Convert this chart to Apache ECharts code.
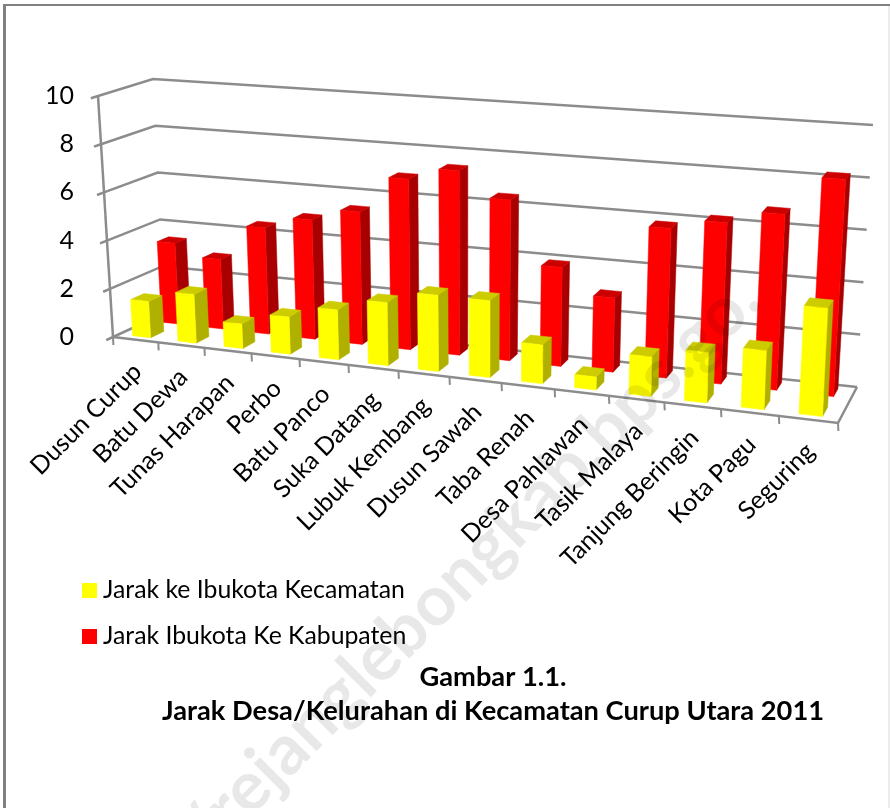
<!DOCTYPE html>
<html>
<head>
<meta charset="utf-8">
<title>Jarak Desa/Kelurahan</title>
<script src="https://cdn.jsdelivr.net/npm/echarts@6/dist/echarts.min.js"></script>
<style>
  html, body { margin: 0; padding: 0; background: #fff; }
  #chart { width: 890px; height: 808px; }
</style>
</head>
<body>
<div id="chart"></div>
<script>
const categories = ['Dusun Curup', 'Batu Dewa', 'Tunas Harapan', 'Perbo', 'Batu Panco', 'Suka Datang', 'Lubuk Kembang',
  'Dusun Sawah', 'Taba Renah', 'Desa Pahlawan', 'Tasik Malaya', 'Tanjung Beringin', 'Kota Pagu', 'Seguring'];
const jarakKecamatan = [1.5, 2, 1, 1.5, 2, 2.5, 3, 3, 1.5, 0.5, 1.5, 1.9, 2.2, 4];
const jarakKabupaten = [3.4, 2.9, 4.4, 4.9, 5.4, 6.9, 7.4, 6.4, 3.9, 2.9, 5.8, 6.2, 6.7, 8.2];
const yTicks = [0, 2, 4, 6, 8, 10];

const FONT = 'Lato, "Open Sans", sans-serif';
const LINE = '#8c8c8c';
const LINE_W = 2.5;
const grid = { left: 80, top: 96, width: 780, height: 241 };

// corners of the 3d box on the page: [value 0, value 10]
const box = {
  frontLeft: [[113, 337], [98, 96]],
  frontRight: [[838, 423], [852, 150]],
  backLeft: [[165, 313], [153, 79]],
  backRight: [[857, 387], [873, 125]]
};
const lerp = (a, b, k) => a + (b - a) * k;
const lerpPt = (a, b, k) => [lerp(a[0], b[0], k), lerp(a[1], b[1], k)];

// pixel on the hidden flat grid + depth (0 front, 1 back) -> pixel on the tilted box
function project(pt, depth) {
  let u = (pt[0] - grid.left) / grid.width;
  const t = (grid.top + grid.height - pt[1]) / grid.height;
  u = (0.866 * u) / (1 - 0.134 * u); // bands get wider towards the viewer
  const front = lerpPt(lerpPt(box.frontLeft[0], box.frontRight[0], u), lerpPt(box.frontLeft[1], box.frontRight[1], u), t);
  const back = lerpPt(lerpPt(box.backLeft[0], box.backRight[0], u), lerpPt(box.backLeft[1], box.backRight[1], u), t);
  return lerpPt(front, back, depth);
}

function barRenderer(depthFront, depthBack, colors) {
  return function (params, api) {
    const i = api.value(0);
    const top = api.coord([i, api.value(1)]);
    const base = api.coord([i, 0]);
    const half = api.size([1, 0])[0] * 0.2;
    const p = (x, y, d) => project([x, y], d);
    const xl = top[0] - half, xr = top[0] + half;
    const poly = (points, fill) => ({ type: 'polygon', shape: { points }, style: { fill, stroke: fill, lineWidth: 0.5 } });
    return {
      type: 'group',
      children: [
        poly([p(xr, base[1], depthFront), p(xr, base[1], depthBack), p(xr, top[1], depthBack), p(xr, top[1], depthFront)], colors.side),
        poly([p(xl, top[1], depthFront), p(xr, top[1], depthFront), p(xr, top[1], depthBack), p(xl, top[1], depthBack)], colors.top),
        poly([p(xl, base[1], depthFront), p(xr, base[1], depthFront), p(xr, top[1], depthFront), p(xl, top[1], depthFront)], colors.front)
      ]
    };
  };
}

function levelRenderer(params, api) {
  const y = api.coord([0, api.value(0)])[1];
  const points = [
    project([grid.left, y], -0.13),
    project([grid.left, y], 0),
    project([grid.left, y], 1),
    project([grid.left + grid.width, y], 1)
  ];
  return { type: 'polyline', shape: { points }, style: { fill: 'none', stroke: LINE, lineWidth: LINE_W } };
}

function frameRenderer(params, api) {
  const y0 = api.coord([0, 0])[1], y10 = api.coord([0, 10])[1];
  const right = grid.left + grid.width;
  return {
    type: 'group',
    children: [
      { type: 'polyline', shape: { points: [project([grid.left, y10], 0), project([grid.left, y0], 0)] }, style: { fill: 'none', stroke: LINE, lineWidth: LINE_W } },
      { type: 'polyline', shape: { points: [project([grid.left, y0], 0), project([right, y0], 0), project([right, y0], 1)] }, style: { fill: 'none', stroke: LINE, lineWidth: LINE_W } }
    ]
  };
}

function categoryRenderer(params, api) {
  const i = api.value(0);
  const c = api.coord([i, 0]);
  const band = api.size([1, 0])[0];
  const tickAt = (x) => {
    const a = project([x, c[1]], 0);
    return { type: 'polyline', shape: { points: [a, [a[0] + 0.4, a[1] + 8]] }, style: { fill: 'none', stroke: LINE, lineWidth: 2 } };
  };
  const anchor = project(c, 0);
  const children = [
    tickAt(c[0] - band / 2),
    {
      type: 'text',
      x: anchor[0] + 2,
      y: anchor[1] + 28,
      rotation: Math.PI / 4,
      style: { text: categories[i], font: '25px ' + FONT, fill: '#000', textAlign: 'right', textVerticalAlign: 'middle' }
    }
  ];
  if (i === categories.length - 1) children.push(tickAt(c[0] + band / 2));
  return { type: 'group', children };
}

const chart = echarts.init(document.getElementById('chart'));
chart.setOption({
  animation: false,
  backgroundColor: '#fff',
  textStyle: { fontFamily: FONT },
  title: {
    text: 'Gambar 1.1.\nJarak Desa/Kelurahan di Kecamatan Curup Utara 2011',
    left: 488,
    top: 655,
    textAlign: 'center',
    textStyle: { fontFamily: FONT, fontSize: 27.25, fontWeight: 'bold', color: '#000', lineHeight: 34, align: 'center' }
  },
  legend: {
    orient: 'vertical',
    left: 82,
    top: 578,
    padding: 0,
    itemWidth: 15,
    itemHeight: 15,
    itemGap: 21,
    icon: 'rect',
    selectedMode: false,
    textStyle: { fontFamily: FONT, fontSize: 24.8, color: '#000', padding: [0, 0, 0, 1] },
    data: ['Jarak ke Ibukota Kecamatan', 'Jarak Ibukota Ke Kabupaten']
  },
  grid: Object.assign({ containLabel: false }, grid),
  xAxis: { type: 'category', data: categories, show: false },
  yAxis: {
    type: 'value',
    min: 0,
    max: 10,
    interval: 2,
    axisLine: { show: false },
    axisTick: { show: false },
    splitLine: { show: false },
    axisLabel: { margin: 6, fontFamily: FONT, fontSize: 25, color: '#000', padding: [5, 0, 0, 0] }
  },
  graphic: [
    { type: 'rect', silent: true, z: 0, shape: { x: 3, y: 4, width: 3, height: 804 }, style: { fill: '#808080' } },
    { type: 'rect', silent: true, z: 0, shape: { x: 3, y: 4, width: 887, height: 2 }, style: { fill: '#808080' } },
    { type: 'rect', silent: true, z: 0, shape: { x: 888, y: 6, width: 2, height: 802 }, style: { fill: '#ececec' } },
    {
      type: 'text',
      silent: true,
      z: 100,
      x: 748,
      y: 288,
      rotation: Math.PI / 4,
      style: {
        text: 'http://rejanglebongkab.bps.go.',
        font: 'bold 70px Lato, sans-serif',
        fill: 'rgba(0,0,0,0.09)',
        textAlign: 'right',
        textVerticalAlign: 'middle'
      }
    }
  ],
  series: [
    { type: 'custom', name: 'levels', z: 1, silent: true, renderItem: levelRenderer, data: yTicks.map((v) => [v]), encode: { y: 0 } },
    { type: 'custom', name: 'frame', z: 1, silent: true, renderItem: frameRenderer, data: [[0, 0]] },
    { type: 'custom', name: 'labels', z: 1, silent: true, renderItem: categoryRenderer, data: categories.map((c, i) => [i, 0]) },
    {
      type: 'custom',
      name: 'Jarak Ibukota Ke Kabupaten',
      z: 2,
      itemStyle: { color: '#ff0000' },
      renderItem: barRenderer(0.68, 0.9, { front: '#ff0000', top: '#cc0000', side: '#a80000' }),
      data: jarakKabupaten.map((v, i) => [i, v])
    },
    {
      type: 'custom',
      name: 'Jarak ke Ibukota Kecamatan',
      z: 3,
      itemStyle: { color: '#ffff00' },
      renderItem: barRenderer(0.12, 0.38, { front: '#ffff00', top: '#cccc00', side: '#b0b000' }),
      data: jarakKecamatan.map((v, i) => [i, v])
    }
  ]
});
</script>
</body>
</html>
